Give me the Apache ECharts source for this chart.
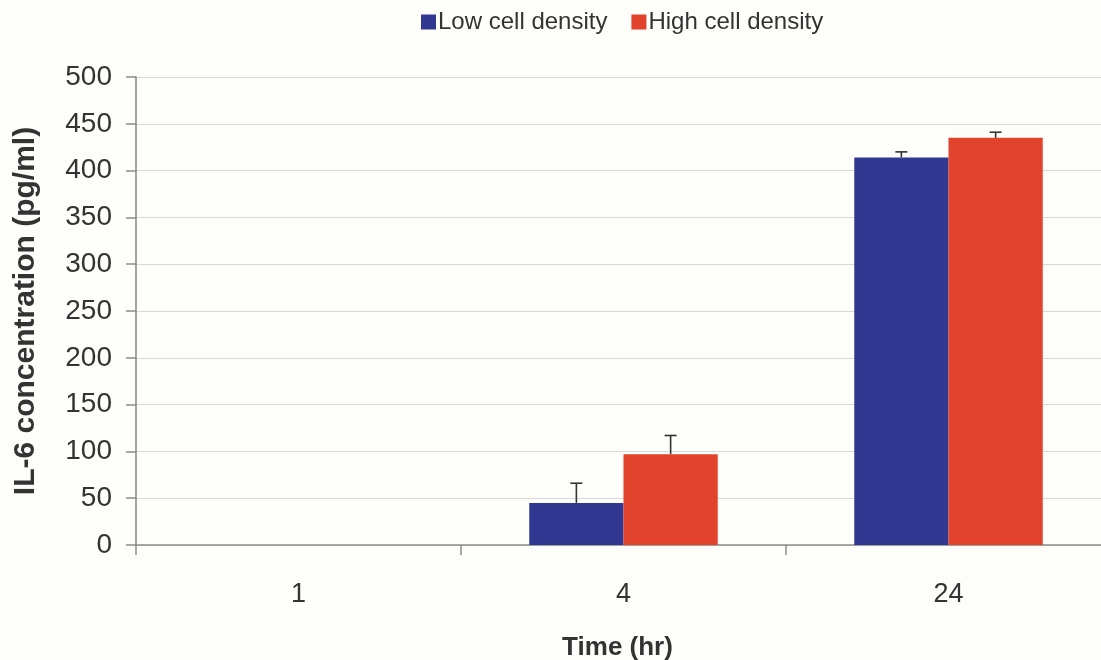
<!DOCTYPE html>
<html>
<head>
<meta charset="utf-8">
<script src="https://cdn.jsdelivr.net/npm/echarts@6/dist/echarts.min.js"></script>
<style>html,body{margin:0;padding:0;background:#fdfdf9;}#c{width:1101px;height:660px;}</style>
</head>
<body>
<div id="c"></div>
<script>
const categories = ['1', '4', '24'];
const lowDensity = [null, 45, 414];
const highDensity = [null, 97, 435];
const lowErr = [null, 21, 6];
const highErr = [null, 20, 6];
const yTicks = { min: 0, max: 500, interval: 50 };

const CAT_GAP = 0.42;
const BLUE = '#303892';
const RED = '#e2432d';
const FONT = 'Liberation Sans, Arial, sans-serif';

function errSeries(name, values, errs, side) {
  return {
    name: name + ' err',
    type: 'custom',
    z: 5,
    data: values.map((v, i) => [i, v, errs[i]]),
    renderItem: function (params, api) {
      const v = api.value(1), e = api.value(2);
      if (v == null || isNaN(v) || e == null || isNaN(e)) return;
      const band = api.size([1, 0])[0];
      const bw = band * (1 - CAT_GAP) / 2;
      const base = api.coord([api.value(0), v]);
      const top = api.coord([api.value(0), v + e]);
      const x = base[0] + side * bw / 2;
      const cap = 6;
      return {
        type: 'group',
        children: [
          { type: 'line', shape: { x1: x, y1: base[1], x2: x, y2: top[1] }, style: { stroke: '#333', lineWidth: 1.6 } },
          { type: 'line', shape: { x1: x - cap, y1: top[1], x2: x + cap, y2: top[1] }, style: { stroke: '#333', lineWidth: 1.6 } }
        ]
      };
    },
    tooltip: { show: false },
    silent: true
  };
}

const chart = echarts.init(document.getElementById('c'), null, { renderer: 'canvas' });
chart.setOption({
  backgroundColor: '#fdfdf9',
  animation: false,
  legend: {
    data: ['Low cell density', 'High cell density'],
    top: 5,
    left: 416,
    itemWidth: 15,
    itemHeight: 15,
    itemGap: 24,
    icon: 'rect',
    textStyle: { fontFamily: FONT, fontSize: 24, color: '#333', padding: [0, 0, 0, -3] }
  },
  grid: { left: 136, width: 975, top: 77, height: 468, outerBoundsMode: 'none', containLabel: false },
  xAxis: {
    type: 'category',
    data: categories,
    name: 'Time (hr)',
    nameLocation: 'middle',
    nameGap: 90,
    nameTextStyle: { fontFamily: FONT, fontSize: 26, fontWeight: 'bold', color: '#333', padding: [0, 12, 0, 0] },
    axisLine: { lineStyle: { color: '#8c8c8c', width: 1.5 } },
    axisTick: { show: true, length: 10, lineStyle: { color: '#8c8c8c', width: 1.5 } },
    axisLabel: { fontFamily: FONT, fontSize: 27, color: '#333', margin: 36 },
    splitLine: { show: false }
  },
  yAxis: {
    type: 'value',
    min: yTicks.min,
    max: yTicks.max,
    interval: yTicks.interval,
    name: 'IL-6 concentration (pg/ml)',
    nameLocation: 'middle',
    nameGap: 95,
    nameTextStyle: { fontFamily: FONT, fontSize: 30, fontWeight: 'bold', color: '#333' },
    axisLine: { show: true, lineStyle: { color: '#8a8084', width: 1.5 } },
    axisTick: { show: true, length: 10, lineStyle: { color: '#8c8c8c', width: 1.5 } },
    axisLabel: { fontFamily: FONT, fontSize: 28, color: '#333', margin: 24 },
    splitLine: { show: true, lineStyle: { color: '#d8d8d8', width: 1 } }
  },
  series: [
    { name: 'Low cell density', type: 'bar', data: lowDensity, barGap: '0%', barCategoryGap: (CAT_GAP * 100) + '%', itemStyle: { color: BLUE } },
    { name: 'High cell density', type: 'bar', data: highDensity, barGap: '0%', barCategoryGap: (CAT_GAP * 100) + '%', itemStyle: { color: RED } },
    errSeries('Low cell density', lowDensity, lowErr, -1),
    errSeries('High cell density', highDensity, highErr, 1)
  ]
});
</script>
</body>
</html>
